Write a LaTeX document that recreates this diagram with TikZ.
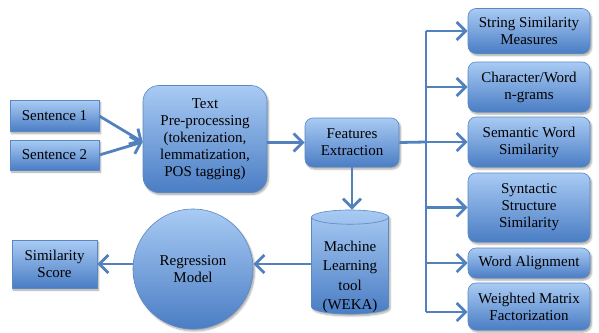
\documentclass[tikz,border=0pt]{standalone}
\usepackage{fontspec}
\setmainfont{Liberation Serif}
\usetikzlibrary{arrows.meta,shapes.geometric,shadows.blur}

\definecolor{boxtop}{HTML}{A9CBF4}
\definecolor{boxbot}{HTML}{4A7DC4}
\definecolor{boxline}{HTML}{5A88C2}
\definecolor{flowline}{HTML}{5282BE}

\begin{document}
\begin{tikzpicture}[x=1pt, y=-1pt,
        every node/.style={font=\fontsize{15}{17}\selectfont, align=center, inner sep=1pt},
        blob/.style={draw=boxline, line width=0.6pt, top color=boxtop, bottom color=boxbot,
            blur shadow={shadow xshift=1.5pt, shadow yshift=-2pt, shadow opacity=35, shadow blur steps=5}},
        plain/.style={blob, rectangle},
        measure/.style={blob, rounded corners=8pt, minimum width=122pt},
        link/.style={draw=flowline, line width=2.8pt},
        flow/.style={link, -{Straight Barb[length=9pt, width=18pt]}}]
        \useasboundingbox (0,0) rectangle (599,332);

        % inputs and pre-processing
        \node[plain, minimum width=89pt, minimum height=31pt] (s1) at (54.5,116) {Sentence 1};
        \node[plain, minimum width=89pt, minimum height=30pt] (s2) at (54.5,155) {Sentence 2};
        \node[blob, rounded corners=16pt, minimum width=124pt, minimum height=107pt] (prep) at (205,139)
            {Text\\Pre-processing\\(tokenization,\\lemmatization,\\POS tagging)};
        \node[blob, rounded corners=8pt, minimum width=94pt, minimum height=49pt] (feat) at (352,142.5)
            {Features\\Extraction};

        % learning part, text pushed below the top end of the drum
        \node[blob, cylinder, shape border rotate=90, aspect=0.25, minimum width=77pt, minimum height=104pt]
            (ml) at (350,266.5) {\raisebox{-10pt}[\height][\depth]{%
                \renewcommand{\arraystretch}{1.15}\begin{tabular}{@{}c@{}}Machine\\Learning\\tool\\(WEKA)\end{tabular}}};
        \node[blob, circle, minimum size=120pt] (reg) at (193,269) {Regression\\Model};
        \node[plain, minimum width=85pt, minimum height=48pt] (score) at (54.5,264) {Similarity\\Score};

        % feature groups
        \node[measure, minimum height=45pt] (str) at (529,31) {String Similarity\\Measures};
        \node[measure, minimum height=50pt] (chr) at (529,87) {Character/Word\\n-grams};
        \node[measure, minimum height=50pt] (sem) at (529,142) {Semantic Word\\Similarity};
        \node[measure, minimum height=69pt] (syn) at (529,207.5) {Syntactic\\Structure\\Similarity};
        \node[measure, minimum height=30pt] (wal) at (529,263) {Word Alignment};
        \node[measure, minimum height=47pt] (wmf) at (529,306.5) {Weighted Matrix\\Factorization};

        \coordinate (fork) at (426,142);
        \coordinate (wmfin) at ([yshift=-5.5pt]wmf.west);

        \draw[flow] (s1.east) -- ([yshift=-3pt]prep.west);
        \draw[flow] (s2.east) -- ([yshift=-3pt]prep.west);
        \draw[flow] (prep.east |- feat.west) -- (feat.west);
        \draw[flow] (feat.south) -- (feat.south |- ml.north);
        \draw[flow] (ml.west |- score.east) -- (reg.east |- score.east);
        \draw[flow] (reg.west |- score.east) -- (score.east);

        % fan out to the feature groups
        \draw[link] (feat.east) -- (fork);
        \draw[link] (fork |- str.west) -- (fork |- wmfin);
        \foreach \g in {str,chr,sem,syn,wal}
            \draw[flow] (fork |- \g.west) -- (\g.west);
        \draw[flow] (fork |- wmfin) -- (wmfin);
    \end{tikzpicture}
\end{document}
